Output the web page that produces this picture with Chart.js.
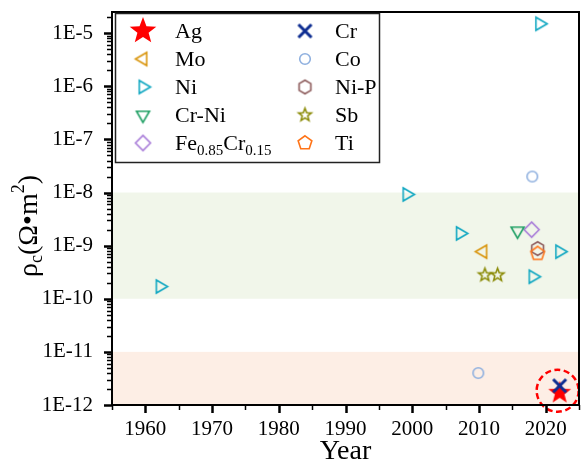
<!DOCTYPE html>
<html>
<head>
<meta charset="utf-8">
<script src="https://cdn.jsdelivr.net/npm/chart.js@4.4.1/dist/chart.umd.min.js"></script>
<style>
  html, body { margin: 0; padding: 0; background: #fff; }
</style>
</head>
<body>
<canvas id="rhoChart" width="586" height="468"></canvas>
<script>
// ---- data ----
const agYear = [2022.1],   agRho = [1.7e-12];
const crYear = [2022.1],   crRho = [2.3e-12];
const moYear = [2010.6],   moRho = [7.7e-10];
const coYear = [2018, 2009.9], coRho = [2.0e-8, 4.0e-12];
const niYear = [1962.2, 1999.2, 2007.2, 2018.1, 2019.1, 2022.1];
const niRho  = [1.7e-10, 9.2e-9, 1.7e-9, 2.6e-10, 1.5e-5, 7.7e-10];
const nipYear = [2018.8],  nipRho = [8.8e-10];
const crniYear = [2015.8], crniRho = [1.9e-9];
const sbYear = [2010.9, 2012.8], sbRho = [2.8e-10, 2.8e-10];
const feYear = [2017.9],   feRho = [2.0e-9];
const tiYear = [2018.8],   tiRho = [7.1e-10];

const greenBand = [1e-10, 1e-8];
const orangeBand = [1e-12, 1e-11];

const xTicks = [1960, 1970, 1980, 1990, 2000, 2010, 2020];
const yTicks = [1e-12, 1e-11, 1e-10, 1e-9, 1e-8, 1e-7, 1e-6, 1e-5];
const yTickLabels = ['1E-12', '1E-11', '1E-10', '1E-9', '1E-8', '1E-7', '1E-6', '1E-5'];
const xRange = [1955, 2025];
const yRange = [1e-12, 2.5e-5];

const SERIF = "'Liberation Serif', 'Times New Roman', serif";

// marker images (Origin-like symbols)
function makeMarker(shape, r, color, lw, filled, rot) {
    const s = Math.ceil(2 * (r + lw) + 4);
    const cv = document.createElement('canvas');
    cv.width = s; cv.height = s;
    const g = cv.getContext('2d');
    g.translate(s / 2, s / 2);
    g.strokeStyle = color;
    g.fillStyle = color;
    g.lineWidth = lw;
    g.beginPath();
    if (shape == 'star') {
        for (let i = 0; i < 10; i++) {
            const a = -Math.PI / 2 + i * Math.PI / 5;
            const rr = i % 2 ? r * 0.42 : r;
            g.lineTo(rr * Math.cos(a), rr * Math.sin(a));
        }
        g.closePath();
    } else if (shape == 'circle') {
        g.arc(0, 0, r, 0, Math.PI * 2);
    } else if (shape == 'x') {
        g.moveTo(-r, -r); g.lineTo(r, r);
        g.moveTo(r, -r); g.lineTo(-r, r);
    } else {
        const n = shape == 'tri' ? 3 : shape == 'diamond' ? 4 : shape == 'pent' ? 5 : 6;
        const start = rot != undefined ? rot : -Math.PI / 2;
        for (let i = 0; i < n; i++) {
            const a = start + i * 2 * Math.PI / n;
            g.lineTo(r * Math.cos(a), r * Math.sin(a));
        }
        g.closePath();
    }
    if (filled) g.fill(); else g.stroke();
    return cv;
}

const mk = {
    ag:   makeMarker('star', 12, '#ff0000', 1, true),
    agL:  makeMarker('star', 14, '#ff0000', 1, true),
    cr:   makeMarker('x', 6.5, '#0d2c91', 3, false),
    mo:   makeMarker('tri', 7.5, '#d9960f', 1.6, false, Math.PI),
    co:   makeMarker('circle', 5.3, '#8fb0df', 1.6, false),
    ni:   makeMarker('tri', 7.5, '#13a8c2', 1.6, false, 0),
    nip:  makeMarker('hex', 6.8, '#8c5a5a', 1.6, false),
    crni: makeMarker('tri', 7.5, '#21a065', 1.6, false, Math.PI / 2),
    sb:   makeMarker('star', 6.8, '#888800', 1.5, false),
    fe:   makeMarker('diamond', 7.5, '#a77ad8', 1.6, false, 0),
    ti:   makeMarker('pent', 7.2, '#ff7418', 1.6, false)
};

function pts(xs, ys) {
    return xs.map((x, i) => ({ x: x, y: ys[i] }));
}

function series(label, xs, ys, img, order, legendImg) {
    return {
        label: label,
        data: pts(xs, ys),
        pointStyle: img,
        pointRadius: 6,
        pointHoverRadius: 6,
        order: order,
        clip: false,
        legendImg: legendImg || img
    };
}

const datasets = [
    series('Cr', crYear, crRho, mk.cr, 0),
    series('Ag', agYear, agRho, mk.ag, 1, mk.agL),
    series('Mo', moYear, moRho, mk.mo, 1),
    series('Co', coYear, coRho, mk.co, 1),
    series('Ni', niYear, niRho, mk.ni, 1),
    series('Ni-P', nipYear, nipRho, mk.nip, 1),
    series('Cr-Ni', crniYear, crniRho, mk.crni, 1),
    series('Sb', sbYear, sbRho, mk.sb, 1),
    series('Fe0.85Cr0.15', feYear, feRho, mk.fe, 1),
    series('Ti', tiYear, tiRho, mk.ti, 0)
];

const legendCols = [
    ['Ag', 'Mo', 'Ni', 'Cr-Ni', 'Fe0.85Cr0.15'],
    ['Cr', 'Co', 'Ni-P', 'Sb', 'Ti']
];

// text with subscripted decimals (Fe0.85Cr0.15)
function drawRich(ctx, text, x, y, size) {
    const parts = text.split(/(\d+\.\d+)/);
    parts.forEach(p => {
        if (!p) return;
        const sub = /^\d+\.\d+$/.test(p);
        ctx.font = (sub ? Math.round(size * 0.7) : size) + 'px ' + SERIF;
        ctx.fillText(p, x, y + (sub ? size * 0.3 : 0));
        x += ctx.measureText(p).width;
    });
}

const bandsPlugin = {
    id: 'bands',
    beforeDatasetsDraw(chart) {
        const ctx = chart.ctx, a = chart.chartArea, y = chart.scales.y;
        ctx.save();
        [[greenBand, '#f1f6ea'], [orangeBand, '#fdeee5']].forEach(b => {
            const top = y.getPixelForValue(b[0][1]);
            const bot = y.getPixelForValue(b[0][0]);
            ctx.fillStyle = b[1];
            ctx.fillRect(a.left, top, a.right - a.left, bot - top);
        });
        ctx.restore();
    }
};

const framePlugin = {
    id: 'frame',
    afterDatasetsDraw(chart) {
        const ctx = chart.ctx, a = chart.chartArea;
        const x = chart.scales.x, y = chart.scales.y;
        ctx.save();

        // dashed ring around the Ag point
        const ag = chart.getDatasetMeta(1).data[0];
        ctx.strokeStyle = '#ff0000';
        ctx.lineWidth = 2.5;
        ctx.setLineDash([6, 3.5]);
        ctx.beginPath();
        ctx.arc(ag.x - 2, ag.y - 2, 21, 0, Math.PI * 2);
        ctx.stroke();
        ctx.setLineDash([]);

        ctx.strokeStyle = '#000';
        ctx.lineWidth = 2;
        ctx.strokeRect(a.left, a.top, a.right - a.left, a.bottom - a.top);

        // y ticks, major + minor (log)
        for (let e = -12; e <= -5; e++) {
            for (let k = 1; k <= 9; k++) {
                const v = k * Math.pow(10, e);
                if (v > y.max) break;
                const py = Math.round(y.getPixelForValue(v)) + 0.5;
                ctx.lineWidth = k == 1 ? 2.5 : 1.5;
                ctx.beginPath();
                ctx.moveTo(a.left - (k == 1 ? 8 : 5), py);
                ctx.lineTo(a.left, py);
                ctx.stroke();
            }
        }
        // x ticks every 5 years
        for (let yr = 1955; yr <= 2025; yr += 5) {
            const px = Math.round(x.getPixelForValue(yr)) + 0.5;
            ctx.lineWidth = yr % 10 == 0 ? 2.5 : 1.5;
            ctx.beginPath();
            ctx.moveTo(px, a.bottom);
            ctx.lineTo(px, a.bottom + (yr % 10 == 0 ? 8 : 5));
            ctx.stroke();
        }
        ctx.restore();
    },
    afterDraw(chart) {
        const ctx = chart.ctx;
        ctx.save();

        // y title: rho_c (Ohm*m^2)
        ctx.translate(30, 226);
        ctx.rotate(-Math.PI / 2);
        ctx.fillStyle = '#000';
        ctx.textBaseline = 'middle';
        const segs = [['\u03C1', 28, 0], ['c', 18, 7], ['(\u03A9\u2022m', 28, 0], ['2', 18, -11], [')', 28, 0]];
        let w = 0;
        segs.forEach(s => { ctx.font = s[1] + 'px ' + SERIF; w += ctx.measureText(s[0]).width; });
        let tx = -w / 2;
        segs.forEach(s => {
            ctx.font = s[1] + 'px ' + SERIF;
            ctx.fillText(s[0], tx, s[2]);
            tx += ctx.measureText(s[0]).width;
        });
        ctx.restore();

        // legend box
        ctx.save();
        ctx.fillStyle = '#fff';
        ctx.fillRect(115, 13, 265, 150);
        ctx.strokeStyle = '#222';
        ctx.lineWidth = 1.5;
        ctx.strokeRect(115.5, 13.5, 264, 149);
        const colX = [[143, 175], [305, 335]];
        legendCols.forEach((col, ci) => {
            col.forEach((name, ri) => {
                const ds = chart.data.datasets.find(d => d.label == name);
                const ly = 31 + ri * 28;
                const img = ds.legendImg;
                ctx.drawImage(img, colX[ci][0] - img.width / 2, ly - img.height / 2);
                ctx.fillStyle = '#000';
                ctx.textBaseline = 'middle';
                drawRich(ctx, name, colX[ci][1], ly + 1, 22);
            });
        });
        ctx.restore();
    }
};

new Chart(document.getElementById('rhoChart'), {
    type: 'scatter',
    data: { datasets: datasets },
    options: {
        responsive: false,
        animation: false,
        layout: { padding: { top: 12, right: 0, left: 0, bottom: 0 } },
        plugins: {
            legend: { display: false },
            tooltip: { enabled: false }
        },
        scales: {
            x: {
                type: 'linear',
                bounds: 'data',
                min: xRange[0],
                max: xRange[1],
                grid: { display: false, drawTicks: false },
                border: { display: false },
                afterBuildTicks: s => {
                    s.ticks = xTicks.map(v => ({ value: v }));
                    s.min = xRange[0]; s.max = xRange[1];
                },
                afterFit: s => {
                    s.height = 63;
                    s.paddingLeft = 0; s.paddingRight = 0;
                },
                ticks: {
                    padding: 12,
                    color: '#000',
                    maxRotation: 0,
                    font: { family: SERIF, size: 21 },
                    callback: v => String(v)
                },
                title: {
                    display: true,
                    text: 'Year',
                    color: '#000',
                    padding: 0,
                    font: { family: SERIF, size: 28 }
                }
            },
            y: {
                type: 'logarithmic',
                bounds: 'data',
                min: yRange[0],
                max: yRange[1],
                grid: { display: false, drawTicks: false },
                border: { display: false },
                afterBuildTicks: s => {
                    s.ticks = yTicks.map(v => ({ value: v }));
                    s.min = yRange[0]; s.max = yRange[1];
                },
                afterFit: s => {
                    s.width = 112;
                    s.paddingTop = 0; s.paddingBottom = 0;
                },
                ticks: {
                    padding: 19,
                    color: '#000',
                    font: { family: SERIF, size: 21 },
                    callback: function(v) {
                        const i = yTicks.findIndex(t => Math.abs(Math.log10(t) - Math.log10(v)) < 1e-6);
                        return i >= 0 ? yTickLabels[i] : '';
                    }
                }
            }
        }
    },
    plugins: [bandsPlugin, framePlugin]
});
</script>
</body>
</html>
